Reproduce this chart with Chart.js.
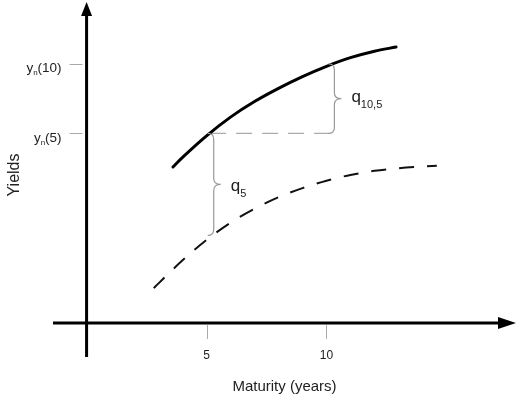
<!DOCTYPE html>
<html><head><meta charset="utf-8">
<script src="https://cdn.jsdelivr.net/npm/chart.js@4"></script>
<style>html,body{margin:0;padding:0;background:#fff}#wrap{width:529px;height:404px;position:relative}</style>
</head><body><div id="wrap"><canvas id="c" width="529" height="404"></canvas></div>
<script>
// ---- data ----
const solidX = [3.6, 4, 5, 6, 7, 8, 9, 10, 11, 12, 12.9];
const solidY = [6.5, 6.9, 7.8, 8.58, 9.23, 9.78, 10.27, 10.7, 11.06, 11.33, 11.5];
const dashedX = [2.8, 3, 4, 5, 6, 7, 8, 9, 10, 11, 12, 13, 14, 14.6];
const dashedY = [1.45, 1.65, 2.61, 3.46, 4.18, 4.76, 5.24, 5.62, 5.93, 6.17, 6.34, 6.45, 6.52, 6.55];
const xTickValues = [5, 10];
const xTickLabels = ['5', '10'];
const yTickValues = [7.9, 10.8];
const yTickLabels = [{base: 'y', sub: 'n', rest: '(5)'}, {base: 'y', sub: 'n', rest: '(10)'}];
const guideX = [5.15, 10.1];
const guideY = [7.9, 7.9];
const braceX = [5.3, 10.33];
const braceLow = [3.65, 7.9];
const braceHigh = [7.9, 10.8];
const braceLabels = [{base: 'q', sub: '5'}, {base: 'q', sub: '10,5'}];
const xRange = [-1.4, 17.9];
const yRange = [-1.42, 13.38];
const xTitle = 'Maturity (years)';
const yTitle = 'Yields';

const FONT = '"Liberation Sans", Arial, Helvetica, sans-serif';
const pts = (xs, ys) => xs.map((x, i) => ({x: x, y: ys[i]}));

function drawSubText(ctx, x, y, base, sub, rest, bSize, sSize, drop, align) {
  ctx.font = bSize + 'px ' + FONT;
  const wb = ctx.measureText(base).width;
  const wr = rest ? ctx.measureText(rest).width : 0;
  ctx.font = sSize + 'px ' + FONT;
  const ws = ctx.measureText(sub).width;
  let sx = align === 'right' ? x - (wb + ws + wr) : x;
  ctx.textAlign = 'left';
  ctx.textBaseline = 'alphabetic';
  ctx.font = bSize + 'px ' + FONT;
  ctx.fillText(base, sx, y);
  ctx.font = sSize + 'px ' + FONT;
  ctx.fillText(sub, sx + wb, y + drop);
  if (rest) {
    ctx.font = bSize + 'px ' + FONT;
    ctx.fillText(rest, sx + wb + ws, y);
  }
}

function drawBrace(ctx, x, yTop, yBot, r, tip) {
  const mid = (yTop + yBot) / 2;
  ctx.beginPath();
  ctx.moveTo(x - r, yTop);
  ctx.quadraticCurveTo(x, yTop, x, yTop + r);
  ctx.lineTo(x, mid - r);
  ctx.quadraticCurveTo(x, mid, x + tip, mid);
  ctx.quadraticCurveTo(x, mid, x, mid + r);
  ctx.lineTo(x, yBot - r);
  ctx.quadraticCurveTo(x, yBot, x - r, yBot);
  ctx.stroke();
}

const decor = {
  id: 'decor',
  afterDatasetsDraw(chart) {
    const ctx = chart.ctx;
    const xs = chart.scales.x, ys = chart.scales.y;
    const X = v => xs.getPixelForValue(v), Y = v => ys.getPixelForValue(v);
    ctx.save();
    // axes
    ctx.strokeStyle = '#000';
    ctx.fillStyle = '#000';
    ctx.lineWidth = 3;
    ctx.lineCap = 'butt';
    const x0 = X(0), y0 = Y(0);
    const xTip = X(xRange[1]), yTip = Y(yRange[1]);
    ctx.beginPath();
    ctx.moveTo(X(xRange[0]), y0); ctx.lineTo(xTip - 16, y0);
    ctx.moveTo(x0, Y(yRange[0])); ctx.lineTo(x0, yTip + 12);
    ctx.stroke();
    ctx.beginPath();
    ctx.moveTo(xTip, y0); ctx.lineTo(xTip - 18, y0 - 6); ctx.lineTo(xTip - 18, y0 + 6); ctx.closePath();
    ctx.fill();
    ctx.beginPath();
    ctx.moveTo(x0, yTip); ctx.lineTo(x0 - 5.5, yTip + 14); ctx.lineTo(x0 + 5.5, yTip + 14); ctx.closePath();
    ctx.fill();
    // ticks
    ctx.strokeStyle = '#aaa';
    ctx.lineWidth = 1;
    ctx.beginPath();
    xTickValues.forEach(v => { const px = Math.round(X(v)) + 0.5; ctx.moveTo(px, y0 + 2); ctx.lineTo(px, y0 + 16); });
    yTickValues.forEach(v => { const py = Math.round(Y(v)) + 0.5; ctx.moveTo(x0 - 17, py); ctx.lineTo(x0 - 4, py); });
    ctx.stroke();
    // tick labels
    ctx.fillStyle = '#222';
    ctx.font = '12px ' + FONT;
    ctx.textAlign = 'center';
    ctx.textBaseline = 'alphabetic';
    xTickValues.forEach((v, i) => ctx.fillText(xTickLabels[i], X(v), y0 + 36));
    yTickValues.forEach((v, i) => {
      const l = yTickLabels[i];
      drawSubText(ctx, x0 - 25, Y(v) + 8.5, l.base, l.sub, l.rest, 13.5, 8, 3, 'right');
    });
    // braces
    ctx.strokeStyle = '#999';
    ctx.lineWidth = 1.2;
    braceX.forEach((bx, i) => {
      const px = X(bx), top = Y(braceHigh[i]), bot = Y(braceLow[i]);
      drawBrace(ctx, px, top, bot, 6, 7);
      const mid = (top + bot) / 2;
      ctx.fillStyle = '#222';
      drawSubText(ctx, px + 17, mid + (i === 0 ? 6.5 : 3.5), braceLabels[i].base, braceLabels[i].sub, '', 17, 11, 6, 'left');
    });
    // titles
    ctx.fillStyle = '#222';
    ctx.font = '15px ' + FONT;
    ctx.textAlign = 'center';
    ctx.textBaseline = 'alphabetic';
    ctx.fillText(xTitle, (chart.chartArea.left + chart.chartArea.right) / 2, 391);
    ctx.save();
    ctx.translate(19, 175);
    ctx.rotate(-Math.PI / 2);
    ctx.font = '16px ' + FONT;
    ctx.fillText(yTitle, 0, 0);
    ctx.restore();
    ctx.restore();
  }
};

new Chart(document.getElementById('c'), {
  type: 'scatter',
  data: {
    datasets: [
      {label: 'solid', data: pts(solidX, solidY), showLine: true, borderColor: '#000', borderWidth: 3,
       pointRadius: 0, cubicInterpolationMode: 'monotone', borderCapStyle: 'round', fill: false},
      {label: 'dashed', data: pts(dashedX, dashedY), showLine: true, borderColor: '#111', borderWidth: 2,
       borderDash: [15, 13], pointRadius: 0, cubicInterpolationMode: 'monotone', fill: false},
      {label: 'guide', data: pts(guideX, guideY), showLine: true, borderColor: '#aaa', borderWidth: 1.2,
       borderDash: [16, 10], pointRadius: 0, fill: false}
    ]
  },
  options: {
    responsive: false,
    animation: false,
    layout: {padding: {left: 53, right: 13, top: 2, bottom: 47}},
    plugins: {legend: {display: false}, tooltip: {enabled: false}},
    scales: {
      x: {type: 'linear', min: xRange[0], max: xRange[1], display: false},
      y: {type: 'linear', min: yRange[0], max: yRange[1], display: false}
    }
  },
  plugins: [decor]
});
</script>
</body></html>
